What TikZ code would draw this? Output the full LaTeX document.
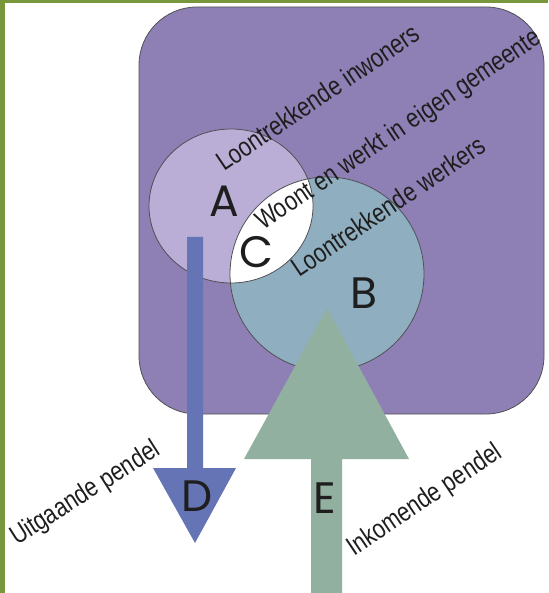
\documentclass[tikz,border=0pt]{standalone}
\usepackage{fontspec}
\setmainfont{Liberation Sans}
\newfontfamily\lblfont[FakeStretch=0.81]{Liberation Sans}
\newfontfamily\geofont{Poppins}
\definecolor{borderG}{RGB}{122,150,58}
\definecolor{boxP}{RGB}{142,128,180}
\definecolor{circA}{RGB}{186,174,214}
\definecolor{circB}{RGB}{143,174,192}
\definecolor{arrD}{RGB}{101,116,180}
\definecolor{arrE}{RGB}{145,176,160}
\definecolor{edgeC}{RGB}{80,80,85}
\definecolor{inkC}{RGB}{30,30,30}
\tikzset{
  lbl/.style={anchor=base west, rotate=34, inner sep=0pt, text=inkC,
    font=\lblfont\fontsize{27}{30}\selectfont},
  letter/.style={inner sep=0pt, text=inkC, font=\geofont\fontsize{44}{48}\selectfont},
  outline/.style={draw=edgeC, line width=0.8pt}
}
\begin{document}
\begin{tikzpicture}[x=1pt,y=-1pt]
\useasboundingbox (0,0) rectangle (548,593);
% green frame
\fill[borderG] (0,0) rectangle (548,3);
\fill[borderG] (0,0) rectangle (5,593);
% main box
\draw[outline, fill=boxP, rounded corners=58pt] (139,7) rectangle (544,414);
% circles
\fill[circA] (231,206) ellipse [x radius=82, y radius=77];
\fill[circB] (327,274) circle [radius=97];
\begin{scope}
  \clip (231,206) ellipse [x radius=82, y radius=77];
  \fill[white] (327,274) circle [radius=97];
\end{scope}
\draw[outline] (231,206) ellipse [x radius=82, y radius=77];
\draw[outline] (327,274) circle [radius=97];
% arrows
\fill[arrD] (187,237) -- (203,237) -- (203,468) -- (236,468) -- (195,543) -- (153,468) -- (187,468) -- cycle;
\fill[arrE] (311,593) -- (342,593) -- (342,459) -- (409,459) -- (327,308) -- (244,459) -- (311,459) -- cycle;
% labels
\node[lbl] (inw) at (224,172) {Loontrekkende inwoners};
\node[lbl] (gem) at (263,231) {Woont en werkt in eigen gemeente};
\node[lbl] (wrk) at (299,278) {Loontrekkende werkers};
\node[lbl, rotate=-1.5] (uit) at (17,546) {Uitgaande pendel};
\node[lbl] (ink) at (354,557) {Inkomende pendel};
% letters
\node[letter] (A) at (224,201) {A};
\node[letter] (B) at (364,293) {B};
\node[letter] (C) at (256,252) {C};
\node[letter] (D) at (197,496) {D};
\node[letter] (E) at (325,498) {E};
\end{tikzpicture}
\end{document}
